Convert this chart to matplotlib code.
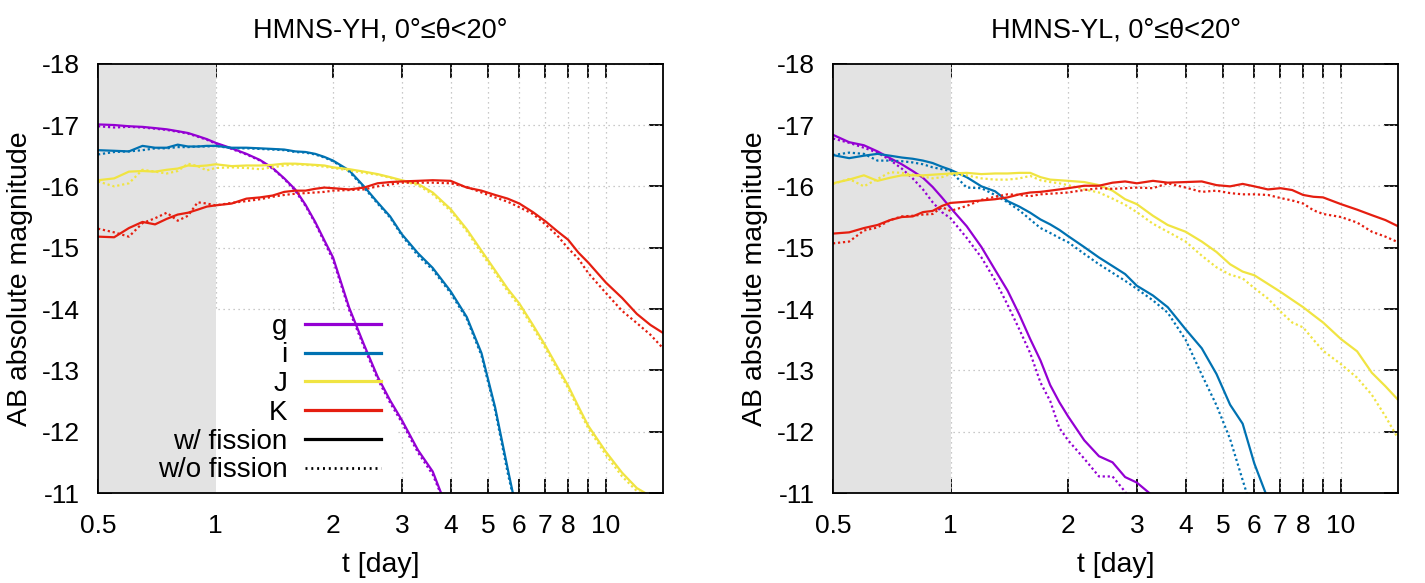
import numpy as np
import matplotlib
matplotlib.use('Agg')
import matplotlib.pyplot as plt
from matplotlib.lines import Line2D
from matplotlib.patches import Rectangle
from matplotlib.ticker import FixedLocator, FixedFormatter, NullLocator

plt.rcParams['font.family'] = ['Liberation Sans', 'DejaVu Sans']
plt.rcParams['axes.unicode_minus'] = False

# ---------------- data ----------------
t_days = [0.5, 0.55, 0.6, 0.65, 0.7, 0.75, 0.8, 0.85, 0.9, 0.95, 1.0, 1.1, 1.2, 1.3, 1.4,
          1.5, 1.6, 1.7, 1.8, 1.9, 2.0, 2.2, 2.4, 2.6, 2.8, 3.0, 3.3, 3.6, 4.0, 4.4, 4.8,
          5.2, 5.6, 6.0, 6.5, 7.0, 7.5, 8.0, 8.5, 9.0, 10, 11, 12, 13, 14]

bands = ['g', 'i', 'J', 'K']
band_colors = ['#9400D3', '#0072B2', '#F0E442', '#E51E10']

# HMNS-YH
yh_g_fis = [-17.01, -17.00, -16.98, -16.97, -16.95, -16.93, -16.90, -16.87, -16.82, -16.77, -16.71,
            -16.62, -16.53, -16.43, -16.30, -16.13, -15.95, -15.70, -15.42, -15.12, -14.84, -14.02,
            -13.42, -12.90, -12.51, -12.19, -11.70, -11.35, -10.60]
yh_g_nofis = [-16.98, -16.96, -16.97, -16.96, -16.94, -16.92, -16.89, -16.86, -16.81, -16.76, -16.70,
              -16.61, -16.52, -16.42, -16.29, -16.12, -15.93, -15.68, -15.40, -15.09, -14.80, -13.98,
              -13.38, -12.86, -12.47, -12.15, -11.66, -11.30, -10.60]
yh_i_fis = [-16.59, -16.58, -16.57, -16.66, -16.63, -16.63, -16.68, -16.65, -16.65, -16.66, -16.66,
            -16.63, -16.63, -16.62, -16.61, -16.60, -16.57, -16.56, -16.53, -16.48, -16.42, -16.26,
            -16.00, -15.74, -15.51, -15.22, -14.91, -14.67, -14.29, -13.87, -13.28, -12.40, -11.40,
            -10.50]
yh_i_nofis = [-16.52, -16.56, -16.57, -16.59, -16.62, -16.62, -16.64, -16.64, -16.65, -16.65, -16.66,
              -16.62, -16.62, -16.61, -16.60, -16.59, -16.56, -16.55, -16.52, -16.47, -16.41, -16.24,
              -15.98, -15.72, -15.49, -15.20, -14.87, -14.64, -14.26, -13.84, -13.24, -12.35, -11.33,
              -10.50]
yh_J_fis = [-16.10, -16.13, -16.24, -16.25, -16.24, -16.27, -16.29, -16.34, -16.33, -16.34, -16.36,
            -16.33, -16.34, -16.34, -16.35, -16.37, -16.37, -16.36, -16.35, -16.34, -16.31, -16.28,
            -16.24, -16.20, -16.15, -16.10, -16.04, -15.90, -15.63, -15.30, -14.95, -14.63, -14.33,
            -14.09, -13.74, -13.40, -13.06, -12.75, -12.41, -12.10, -11.67, -11.33, -11.08, -10.95,
            -10.85]
yh_J_nofis = [-16.08, -16.00, -16.05, -16.27, -16.24, -16.21, -16.25, -16.37, -16.33, -16.26, -16.30,
              -16.31, -16.30, -16.28, -16.31, -16.34, -16.36, -16.35, -16.34, -16.32, -16.30, -16.26,
              -16.22, -16.19, -16.14, -16.09, -16.02, -15.87, -15.60, -15.27, -14.91, -14.59, -14.29,
              -14.05, -13.70, -13.36, -13.02, -12.71, -12.37, -12.06, -11.62, -11.27, -11.03, -10.90,
              -10.80]
yh_K_fis = [-15.18, -15.17, -15.32, -15.42, -15.38, -15.47, -15.54, -15.57, -15.62, -15.67, -15.69,
            -15.72, -15.80, -15.82, -15.85, -15.91, -15.93, -15.93, -15.96, -15.98, -15.97, -15.95,
            -15.98, -16.05, -16.07, -16.08, -16.09, -16.10, -16.09, -15.98, -15.93, -15.86, -15.80,
            -15.72, -15.58, -15.43, -15.27, -15.13, -14.92, -14.76, -14.43, -14.18, -13.92, -13.74,
            -13.61]
yh_K_nofis = [-15.31, -15.25, -15.18, -15.40, -15.48, -15.57, -15.44, -15.52, -15.74, -15.72, -15.69,
              -15.73, -15.76, -15.79, -15.83, -15.86, -15.88, -15.89, -15.90, -15.91, -15.93, -15.94,
              -15.95, -16.00, -16.03, -16.06, -16.06, -16.06, -16.05, -15.99, -15.90, -15.82, -15.75,
              -15.66, -15.55, -15.38, -15.20, -14.99, -14.82, -14.59, -14.26, -13.97, -13.77, -13.58,
              -13.36]

# HMNS-YL
yl_g_fis = [-16.84, -16.72, -16.67, -16.57, -16.46, -16.36, -16.25, -16.14, -15.99, -15.82, -15.65,
            -15.35, -15.01, -14.64, -14.30, -13.91, -13.51, -13.16, -12.76, -12.48, -12.25, -11.86,
            -11.60, -11.50, -11.26, -11.17, -10.95, -10.70]
yl_g_nofis = [-16.78, -16.71, -16.63, -16.55, -16.43, -16.29, -16.13, -15.95, -15.74, -15.58, -15.48,
              -15.16, -14.84, -14.47, -14.07, -13.67, -13.28, -12.80, -12.50, -12.06, -11.86, -11.56,
              -11.27, -11.27, -11.02, -10.70]
yl_i_fis = [-16.51, -16.46, -16.50, -16.53, -16.50, -16.47, -16.45, -16.42, -16.38, -16.32, -16.27,
            -16.15, -16.00, -15.92, -15.76, -15.67, -15.57, -15.46, -15.38, -15.29, -15.19, -15.01,
            -14.84, -14.70, -14.57, -14.38, -14.22, -14.03, -13.67, -13.36, -12.94, -12.44, -12.13,
            -11.48, -10.90]
yl_i_nofis = [-16.51, -16.55, -16.53, -16.42, -16.42, -16.41, -16.39, -16.36, -16.31, -16.28, -16.25,
              -15.98, -15.97, -15.86, -15.74, -15.61, -15.46, -15.32, -15.24, -15.16, -15.09, -14.90,
              -14.73, -14.59, -14.46, -14.33, -14.14, -13.94, -13.50, -12.93, -12.43, -11.88, -11.21,
              -10.60]
yl_J_fis = [-16.05, -16.11, -16.18, -16.09, -16.14, -16.18, -16.18, -16.18, -16.19, -16.20, -16.21,
            -16.22, -16.20, -16.21, -16.21, -16.22, -16.22, -16.15, -16.11, -16.10, -16.09, -16.07,
            -16.02, -15.93, -15.79, -15.71, -15.52, -15.37, -15.26, -15.10, -14.93, -14.73, -14.61,
            -14.55, -14.41, -14.28, -14.15, -14.03, -13.90, -13.78, -13.51, -13.31, -12.96, -12.74,
            -12.52]
yl_J_nofis = [-16.04, -16.12, -16.00, -16.12, -16.23, -16.22, -16.19, -16.16, -16.13, -16.15, -16.20,
              -16.18, -16.13, -16.11, -16.11, -16.13, -16.17, -16.10, -16.07, -16.05, -16.02, -15.95,
              -15.90, -15.80, -15.70, -15.58, -15.39, -15.26, -15.10, -14.87, -14.68, -14.56, -14.50,
              -14.34, -14.17, -13.96, -13.78, -13.70, -13.50, -13.32, -13.10, -12.88, -12.60, -12.25,
              -11.89]
yl_K_fis = [-15.23, -15.25, -15.32, -15.37, -15.45, -15.50, -15.51, -15.58, -15.60, -15.68, -15.73,
            -15.75, -15.77, -15.79, -15.82, -15.87, -15.90, -15.91, -15.93, -15.95, -15.97, -16.01,
            -16.01, -16.06, -16.08, -16.05, -16.09, -16.06, -16.07, -16.08, -16.02, -16.00, -16.04,
            -16.00, -15.95, -15.97, -15.94, -15.86, -15.83, -15.82, -15.71, -15.62, -15.53, -15.45,
            -15.35]
yl_K_nofis = [-15.07, -15.10, -15.28, -15.33, -15.45, -15.51, -15.52, -15.54, -15.55, -15.66, -15.60,
              -15.68, -15.78, -15.83, -15.87, -15.86, -15.84, -15.87, -15.88, -15.89, -15.90, -15.94,
              -15.97, -15.96, -15.97, -15.98, -15.97, -16.05, -15.98, -15.91, -15.93, -15.89, -15.87,
              -15.87, -15.86, -15.81, -15.77, -15.72, -15.61, -15.55, -15.50, -15.41, -15.26, -15.18,
              -15.09]

x_ticks = [0.5, 1, 2, 3, 4, 5, 6, 7, 8, 9, 10]
x_tick_labels = ['0.5', '1', '2', '3', '4', '5', '6', '7', '8', '', '10']
y_ticks = [-18, -17, -16, -15, -14, -13, -12, -11]
y_tick_labels = ['-18', '-17', '-16', '-15', '-14', '-13', '-12', '-11']

titles = ['HMNS-YH, 0°≤θ<20°', 'HMNS-YL, 0°≤θ<20°']
legend_labels = ['g', 'i', 'J', 'K', 'w/ fission', 'w/o fission']

TICK_FS = 19
LABEL_FS = 20.5
TITLE_FS = 19.5
LEG_FS = 20
DOT = (0, (1.0, 1.25))
GRID_KW = dict(color='#b8b8b8', ls=(0, (1, 3)), lw=0.9, zorder=2.3)

fig = plt.figure(figsize=(14.25, 5.83), dpi=100)
ax1 = fig.add_axes([0.06877, 0.15437, 0.3965, 0.73637])
ax2 = fig.add_axes([0.58456, 0.15437, 0.3965, 0.73637])

panels = [
    (ax1, titles[0], [(yh_g_fis, yh_g_nofis), (yh_i_fis, yh_i_nofis),
                      (yh_J_fis, yh_J_nofis), (yh_K_fis, yh_K_nofis)]),
    (ax2, titles[1], [(yl_g_fis, yl_g_nofis), (yl_i_fis, yl_i_nofis),
                      (yl_J_fis, yl_J_nofis), (yl_K_fis, yl_K_nofis)]),
]

for ax, title, series in panels:
    ax.set_xscale('log')
    # grid (drawn as plain lines so it can sit under the legend background)
    for yv in y_ticks:
        ax.axhline(yv, **GRID_KW)
    for xv in x_ticks[1:]:
        ax.axvline(xv, **GRID_KW)
    ax.axvspan(0.5, 1.0, color='#e3e3e3', lw=0, zorder=2.6)
    for (w, wo), col in zip(series, band_colors):
        ax.plot(t_days[:len(w)], w, color=col, lw=1.6, zorder=3)
        ax.plot(t_days[:len(wo)], wo, color=col, lw=1.6, ls=DOT, zorder=3)
    ax.set_xlim(0.5, 14)
    ax.set_ylim(-11, -18)
    ax.xaxis.set_major_locator(FixedLocator(x_ticks))
    ax.xaxis.set_major_formatter(FixedFormatter(x_tick_labels))
    ax.xaxis.set_minor_locator(NullLocator())
    ax.yaxis.set_major_locator(FixedLocator(y_ticks))
    ax.yaxis.set_major_formatter(FixedFormatter(y_tick_labels))
    ax.yaxis.set_minor_locator(NullLocator())
    ax.tick_params(direction='in', length=10, width=1.3, top=True, right=True,
                   labelsize=TICK_FS, color='black')
    ax.tick_params(axis='x', pad=15)
    ax.tick_params(axis='y', pad=13)
    for sp in ax.spines.values():
        sp.set_zorder(5)
        sp.set_linewidth(1.3)
    ax.set_title(title, fontsize=TITLE_FS, pad=19)
    ax.set_xlabel('t [day]', fontsize=LABEL_FS, labelpad=10)
    ax.set_ylabel('AB absolute magnitude', fontsize=LABEL_FS, labelpad=6)

# white background behind the key (hides the grid but not the shaded band)
ax1.add_patch(Rectangle((1.0, -11.0), 1.94, -2.95, facecolor='white', edgecolor='none',
                        zorder=2.4))

handles = [Line2D([], [], color=c, lw=2.3) for c in band_colors]
handles += [Line2D([], [], color='black', lw=2.3),
            Line2D([], [], color='black', lw=2, ls=(0, (0.7, 1.4)))]
leg = ax1.legend(handles, legend_labels, loc='upper right', bbox_to_anchor=(0.5004, 0.418),
                 markerfirst=False, frameon=False, fontsize=LEG_FS, handlelength=2.72,
                 handletextpad=0.64, labelspacing=0.1, borderpad=0, borderaxespad=0)
leg.set_zorder(4)

fig.savefig('out.png', dpi=100)
